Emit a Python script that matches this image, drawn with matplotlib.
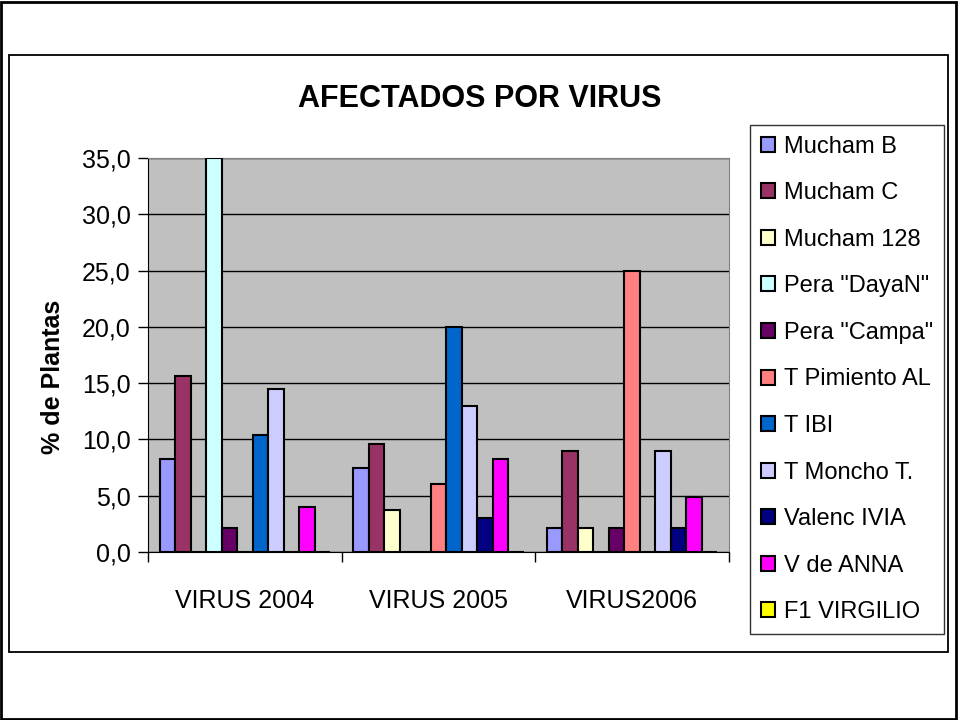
import matplotlib
matplotlib.use("Agg")
import matplotlib.pyplot as plt
import numpy as np
from matplotlib.patches import Rectangle

# Data
categories = ["VIRUS 2004", "VIRUS 2005", "VIRUS2006"]
series = ["Mucham B", "Mucham C", "Mucham 128", 'Pera "DayaN"', 'Pera "Campa"',
          "T Pimiento AL", "T IBI", "T Moncho T.", "Valenc IVIA", "V de ANNA",
          "F1 VIRGILIO"]
values = [
    [8.3, 7.5, 2.1],    # Mucham B
    [15.6, 9.6, 9.0],   # Mucham C
    [0.0, 3.7, 2.1],    # Mucham 128
    [35.0, 0.0, 0.0],   # Pera DayaN
    [2.1, 0.0, 2.1],    # Pera Campa
    [0.0, 6.0, 25.0],   # T Pimiento AL
    [10.4, 20.0, 0.0],  # T IBI
    [14.5, 13.0, 9.0],  # T Moncho T.
    [0.0, 3.0, 2.1],    # Valenc IVIA
    [4.0, 8.3, 4.9],    # V de ANNA
    [0.0, 0.0, 0.0],    # F1 VIRGILIO
]
colors = ["#9999FF", "#993366", "#FFFFCC", "#CCFFFF", "#660066", "#FF8080",
          "#0066CC", "#CCCCFF", "#000080", "#FF00FF", "#FFFF00"]
yticks = [0, 5, 10, 15, 20, 25, 30, 35]

plt.rcParams['font.family'] = ['Liberation Sans', 'DejaVu Sans']

fig = plt.figure(figsize=(9.58, 7.2), dpi=100)
ax = fig.add_axes([148/958, 1-552/720, (729-148)/958, (552-158)/720])
ax.set_facecolor("#C0C0C0")

x = np.arange(len(categories))
n = len(series)
bw = 1.0 / (n + 1.5)
for i, (name, vals, c) in enumerate(zip(series, values, colors)):
    offs = (i - (n - 1) / 2) * bw
    ax.bar(x + offs, vals, bw, color=c, edgecolor="black", linewidth=1.5,
           label=name, zorder=3)

ax.set_xlim(-0.5, 2.5)
ax.set_ylim(0, 35)
ax.set_yticks(yticks)
ax.set_yticklabels([f"{v:.1f}".replace(".", ",") for v in yticks], fontsize=18)
ax.yaxis.grid(True, color="black", linewidth=1, zorder=1)
ax.tick_params(axis="y", direction="out", length=7, width=1, pad=5.5)

ax.set_xticks(x)
ax.set_xticklabels(categories, fontsize=18)
ax.set_xticks([-0.5, 0.5, 1.5, 2.5], minor=True)
ax.tick_params(axis="x", which="major", length=0, pad=27)
ax.tick_params(axis="x", which="minor", direction="out", length=7, width=1)

for s in ["top", "right"]:
    ax.spines[s].set_color("#808080")
for s in ["left", "bottom"]:
    ax.spines[s].set_color("black")

ax.set_ylabel("% de Plantas", fontsize=18, fontweight="bold")
ax.yaxis.set_label_coords(-0.1435, 0.444)
fig.text(480/958, 1-99/720, "AFECTADOS POR VIRUS", fontsize=22,
         fontweight="bold", ha="center", va="center")

leg = fig.legend(loc="upper left", bbox_to_anchor=(750/958, 1-125/720),
                 fontsize=17, frameon=True, fancybox=False, edgecolor="black",
                 handlelength=0.6, handleheight=0.6, handletextpad=0.4,
                 labelspacing=1.04, borderpad=0.45, borderaxespad=0)
leg.get_frame().set_linewidth(1)

# chart borders
fig.patches.append(Rectangle((1/958, 1/720), 955/958, 717/720, transform=fig.transFigure,
                             fill=False, edgecolor="black", linewidth=2))
fig.patches.append(Rectangle((9/958, 1-652/720), 939/958, 597/720, transform=fig.transFigure,
                             fill=False, edgecolor="black", linewidth=1.3))

fig.savefig("out.png", dpi=100)
